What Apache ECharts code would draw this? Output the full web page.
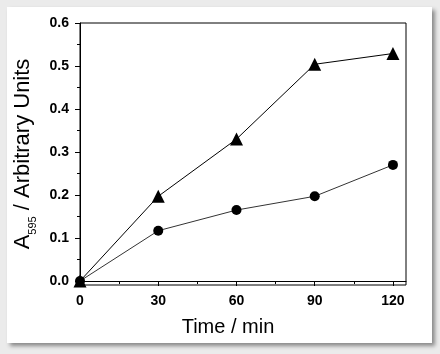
<!DOCTYPE html>
<html>
<head>
<meta charset="utf-8">
<script src="https://cdn.jsdelivr.net/npm/echarts@6/dist/echarts.min.js"></script>
<style>
    html, body { margin: 0; padding: 0; width: 440px; height: 354px; background: #ebebeb; overflow: hidden; }
    #panel { position: absolute; left: 7px; top: 7px; width: 425px; height: 336px; background: #fff; box-shadow: 3px 3px 4px #8a8a8a; }
    #chart { position: absolute; left: 0; top: 0; width: 440px; height: 354px; }
</style>
</head>
<body>
<div id="panel"></div>
<div id="chart"></div>
<script>
// 数据
var times = [0, 30, 60, 90, 120];
var triangleValues = [0, 0.197, 0.33, 0.504, 0.529];
var circleValues = [0, 0.117, 0.165, 0.197, 0.27];
var xTickLabels = [0, 30, 60, 90, 120];
var xMinorTicks = [15, 45, 75, 105];
var yTickLabels = [0, 0.1, 0.2, 0.3, 0.4, 0.5, 0.6];
var yMinorTicks = [0.05, 0.15, 0.25, 0.35, 0.45, 0.55];

function pairs(xs, ys) {
    var out = [];
    for (var i = 0; i < xs.length; i++) {
        out.push([xs[i], ys[i]]);
    }
    return out;
}

var tickFont = {
    color: '#000',
    fontFamily: '"Liberation Sans Narrow", "Liberation Sans", Arial, sans-serif',
    fontWeight: 'bold',
    fontSize: 14
};
var titleFont = '"Liberation Sans", Arial, sans-serif';

var chart = echarts.init(document.getElementById('chart'));
chart.setOption({
    backgroundColor: 'transparent',
    animation: false,
    grid: {
        left: 80,
        top: 23,
        right: 34,
        bottom: 69,
        outerBoundsMode: 'none',
        containLabel: false,
        show: true,
        borderColor: '#000',
        borderWidth: 1,
        backgroundColor: 'transparent'
    },
    xAxis: [{
        type: 'value',
        min: 0,
        max: 125,
        name: 'Time / min',
        nameLocation: 'middle',
        nameGap: 32,
        nameTextStyle: {
            color: '#000',
            fontFamily: titleFont,
            fontSize: 20,
            padding: [0, 30, 0, 0]
        },
        axisLine: { show: true, lineStyle: { color: '#000', width: 1 } },
        axisTick: { show: true, length: 5, customValues: xTickLabels, lineStyle: { color: '#000' } },
        axisLabel: {
            customValues: xTickLabels,
            margin: 9,
            color: tickFont.color,
            fontFamily: tickFont.fontFamily,
            fontWeight: tickFont.fontWeight,
            fontSize: tickFont.fontSize
        },
        splitLine: { show: false }
    }, {
        type: 'value',
        min: 0,
        max: 125,
        position: 'bottom',
        axisLine: { show: false },
        axisTick: { show: true, length: 3, customValues: xMinorTicks, lineStyle: { color: '#000' } },
        axisLabel: { show: false },
        splitLine: { show: false }
    }],
    yAxis: [{
        type: 'value',
        min: -0.0093,
        max: 0.6,
        name: '{a|A}{s|595}{a| / Arbitrary Units}',
        nameLocation: 'middle',
        nameGap: 38,
        nameRotate: 90,
        nameTextStyle: {
            color: '#000',
            fontFamily: titleFont,
            rich: {
                a: { fontSize: 22, lineHeight: 22, verticalAlign: 'top', color: '#000', fontFamily: titleFont },
                s: { fontSize: 11, lineHeight: 27, verticalAlign: 'bottom', color: '#000', fontFamily: titleFont }
            }
        },
        axisLine: { show: true, lineStyle: { color: '#000', width: 1 } },
        axisTick: { show: true, length: 5, customValues: yTickLabels, lineStyle: { color: '#000' } },
        axisLabel: {
            customValues: yTickLabels,
            margin: 11,
            formatter: function (v) { return v.toFixed(1); },
            color: tickFont.color,
            fontFamily: tickFont.fontFamily,
            fontWeight: tickFont.fontWeight,
            fontSize: tickFont.fontSize
        },
        splitLine: { show: false }
    }, {
        type: 'value',
        min: -0.0093,
        max: 0.6,
        position: 'left',
        axisLine: { show: false },
        axisTick: { show: true, length: 3, customValues: yMinorTicks, lineStyle: { color: '#000' } },
        axisLabel: { show: false },
        splitLine: { show: false }
    }],
    series: [{
        name: 'triangle',
        type: 'line',
        data: pairs(times, triangleValues),
        symbol: 'triangle',
        symbolSize: 13,
        showAllSymbol: true,
        lineStyle: { color: '#000', width: 1 },
        itemStyle: { color: '#000' }
    }, {
        name: 'circle',
        type: 'line',
        data: pairs(times, circleValues),
        symbol: 'circle',
        symbolSize: 10,
        showAllSymbol: true,
        lineStyle: { color: '#333', width: 1 },
        itemStyle: { color: '#000' }
    }]
});
</script>
</body>
</html>
